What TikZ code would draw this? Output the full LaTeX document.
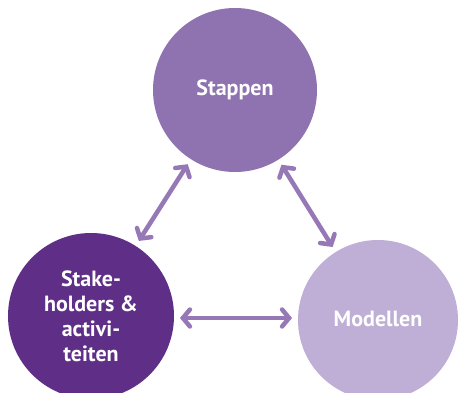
\documentclass[tikz,border=0pt]{standalone}
\usepackage{fontspec}
\setmainfont{PT Sans}
\usepackage{xcolor}
\usetikzlibrary{arrows.meta}

\definecolor{stapcol}{HTML}{8F72B0}
\definecolor{stakecol}{HTML}{5F2F87}
\definecolor{modelcol}{HTML}{BFAED5}
\definecolor{pijlcol}{HTML}{9678B6}

\begin{document}
\begin{tikzpicture}[x=1pt, y=-1pt,
        bol/.style={circle, inner sep=0pt, outer sep=0pt, text=white,
                font=\bfseries\fontsize{22}{25}\selectfont, align=center},
        pijl/.style={draw=pijlcol, line width=4.5pt, line cap=round,
                {Straight Barb[length=7pt, width=17pt, line cap=round]}-{Straight Barb[length=7pt, width=17pt, line cap=round]},
                shorten <=6pt, shorten >=6pt}
    ]
        \useasboundingbox (0, 0) rectangle (458, 393);

        \node[bol, fill=stapcol, minimum size=164pt] (stappen) at (235, 90) {Stappen};
        \node[bol, fill=stakecol, minimum size=166pt] (stake) at (91, 316) {Stake-\\holders \&\\activi-\\teiten};
        \node[bol, fill=modelcol, minimum size=160pt] (modellen) at (378, 320) {\raisebox{3pt}{Modellen}};

        \draw[pijl] (stappen) -- (stake);
        \draw[pijl] (stappen) -- (modellen);
        \draw[pijl] (stake.east |- 0, 318) -- (modellen.west |- 0, 318);
    \end{tikzpicture}
\end{document}
